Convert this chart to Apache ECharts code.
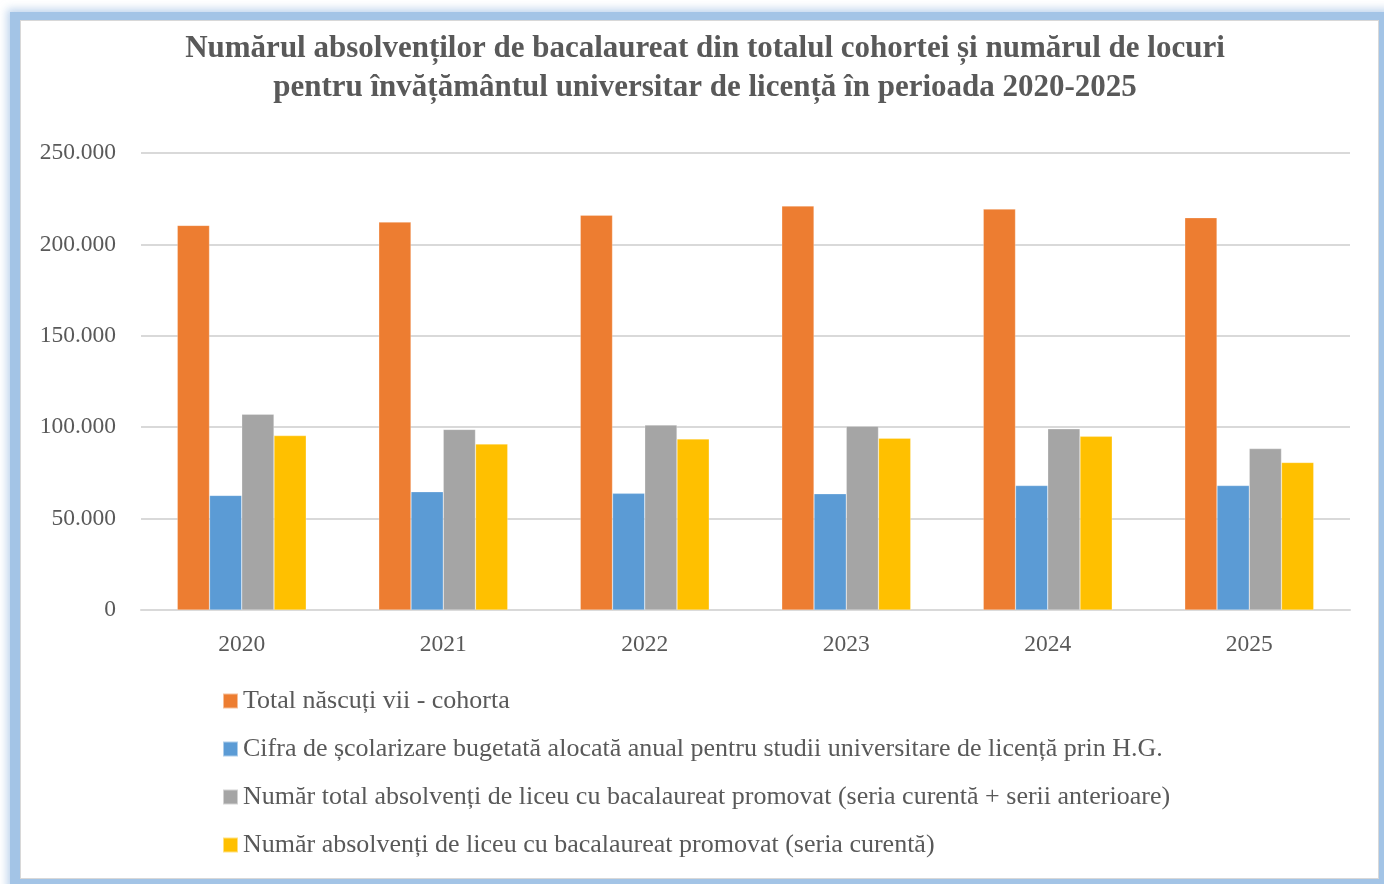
<!DOCTYPE html>
<html>
<head>
<meta charset="utf-8">
<script src="https://cdn.jsdelivr.net/npm/echarts@6/dist/echarts.min.js"></script>
<style>
  html, body { margin: 0; padding: 0; background: #fff; }
  #frame {
    position: absolute; left: 10px; top: 12px; width: 1359px; height: 859px;
    border: 10px solid #a3c4e6; border-top-width: 8px;
    box-shadow: 0 0 8px 3px rgba(150, 185, 225, 0.6), inset 0 0 0 1px #d8d8d8;
    background: #fff;
  }
  #chart { position: absolute; left: 0; top: 0; width: 1384px; height: 884px; }
</style>
</head>
<body>
<div id="frame"></div>
<div id="chart"></div>
<script>
const years = ["2020", "2021", "2022", "2023", "2024", "2025"];
const seriesNames = [
  "Total născuți vii - cohorta",
  "Cifra de școlarizare bugetată alocată anual pentru studii universitare de licență prin H.G.",
  "Număr total absolvenți de liceu cu bacalaureat promovat (seria curentă + serii anterioare)",
  "Număr absolvenți de liceu cu bacalaureat promovat (seria curentă)"
];
const cohort = [210400, 212200, 216000, 221000, 219300, 214600];
const budgetPlaces = [62700, 64700, 63800, 63600, 68100, 68100];
const graduatesTotal = [107100, 98800, 101200, 100500, 99100, 88300];
const graduatesCurrent = [95400, 90800, 93600, 94000, 95000, 80700];
const colors = ["#ED7D31", "#5B9BD5", "#A5A5A5", "#FFC000"];

const font = "'Liberation Serif', 'DejaVu Serif', serif";
const fmt = v => String(v).replace(/\B(?=(\d{3})+(?!\d))/g, ".");

const chart = echarts.init(document.getElementById("chart"));
const data = [cohort, budgetPlaces, graduatesTotal, graduatesCurrent];

chart.setOption({
  animation: false,
  title: {
    text: "Numărul absolvenților de bacalaureat din totalul cohortei și numărul de locuri\npentru învățământul universitar de licență în perioada 2020-2025",
    left: 700,
    top: 24,
    textAlign: "center",
    textStyle: {
      fontFamily: font,
      fontSize: 31,
      fontWeight: "bold",
      color: "#595959",
      lineHeight: 39
    }
  },
  grid: { left: 141, right: 34, top: 153, bottom: 274, containLabel: false },
  legend: {
    orient: "vertical",
    left: 222,
    top: 688,
    padding: 0,
    itemWidth: 15,
    itemHeight: 15,
    itemGap: 22,
    icon: "rect",
    data: seriesNames,
    textStyle: { fontFamily: font, fontSize: 26, lineHeight: 26, color: "#595959" }
  },
  xAxis: {
    type: "category",
    data: years,
    axisLine: { lineStyle: { color: "#d9d9d9", width: 2 } },
    axisTick: { show: false },
    axisLabel: { fontFamily: font, fontSize: 23.5, color: "#595959", margin: 23 }
  },
  yAxis: {
    type: "value",
    min: 0,
    max: 250000,
    interval: 50000,
    axisLine: { show: false },
    axisTick: { show: false },
    splitLine: { lineStyle: { color: "#d9d9d9", width: 2 } },
    axisLabel: {
      fontFamily: font, fontSize: 23.5, color: "#595959", margin: 25,
      formatter: fmt
    }
  },
  series: seriesNames.map((name, i) => ({
    name: name,
    type: "bar",
    data: data[i],
    barGap: 0,
    barCategoryGap: "36%",
    itemStyle: { color: colors[i], borderColor: "rgba(255,255,255,0.5)", borderWidth: 0.5 }
  }))
});
</script>
</body>
</html>
